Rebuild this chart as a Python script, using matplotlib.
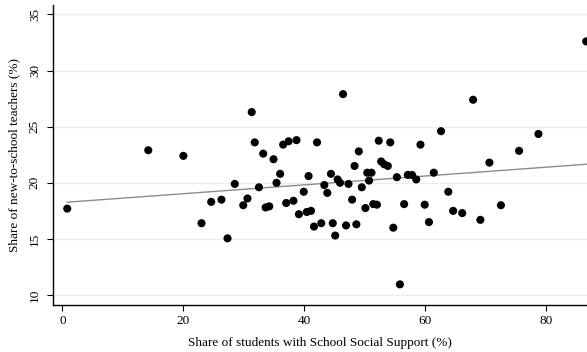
import numpy as np
import matplotlib.pyplot as plt

plt.rcParams['font.family'] = ['Liberation Serif', 'DejaVu Serif']

# share of students with School Social Support (%)
ssp_share = [0.8, 14.2, 20.0, 23.0, 24.6, 26.3, 27.3, 28.5, 29.9, 30.6,
             31.3, 31.8, 32.5, 33.2, 34.9, 33.6, 34.2, 35.4, 36.0, 36.5,
             37.4, 38.7, 37.0, 38.2, 39.1, 40.7, 44.4, 45.5, 45.9, 47.3,
             43.3, 39.9, 43.8, 49.5, 47.9, 40.4, 41.1, 41.6, 42.8, 44.7,
             45.1, 46.9, 48.6, 50.1, 51.4, 52.0, 50.7, 50.4, 51.1, 55.3,
             56.5, 54.7, 55.8, 57.1, 57.8, 58.5, 61.4, 59.9, 60.6, 63.8,
             64.6, 66.1, 69.1, 72.5, 46.4, 42.1, 49.0, 48.3, 52.3, 54.2,
             52.7, 53.2, 53.8, 59.2, 62.6, 67.9, 70.6, 75.5, 78.7, 86.6]

# share of new-to-school teachers (%)
new_teachers = [17.7, 22.9, 22.4, 16.4, 18.3, 18.5, 15.05, 19.9, 18.0, 18.6,
                26.3, 23.6, 19.6, 22.6, 22.1, 17.8, 17.9, 20.0, 20.8, 23.4,
                23.7, 23.8, 18.2, 18.4, 17.2, 20.6, 20.8, 20.3, 20.0, 19.9,
                19.8, 19.2, 19.1, 19.6, 18.5, 17.4, 17.5, 16.1, 16.4, 16.4,
                15.3, 16.2, 16.3, 17.75, 18.1, 18.05, 20.2, 20.9, 20.9, 20.5,
                18.1, 16.0, 10.95, 20.7, 20.7, 20.3, 20.9, 18.05, 16.5, 19.2,
                17.5, 17.3, 16.7, 18.0, 27.9, 23.6, 22.8, 21.5, 23.75, 23.6,
                21.9, 21.65, 21.5, 23.4, 24.6, 27.4, 21.8, 22.85, 24.35, 32.6]

# linear fit line coefficients
fit_intercept = 18.24
fit_slope = 0.0394

x_ticks = [0, 20, 40, 60, 80]
y_ticks = [10, 15, 20, 25, 30, 35]

x = np.array(ssp_share)
y = np.array(new_teachers)

fig = plt.figure(figsize=(5.87, 3.52), dpi=100)
ax = fig.add_axes([0.0898, 0.1335, 0.9102, 0.8525])

for t in y_ticks:
    ax.axhline(t, color='#e9eff1', lw=1.0, zorder=0)

ax.scatter(x, y, s=34, color='black', edgecolors='none', zorder=3)

xf = np.array([x.min(), x.max()])
ax.plot(xf, fit_intercept + fit_slope * xf, color='#8c8c8c', lw=1.0, zorder=2)

ax.set_xlim(-1.6, 86.73)
ax.set_ylim(9.11, 35.85)
ax.set_xticks(x_ticks)
ax.set_yticks(y_ticks)
ax.set_yticklabels([str(t) for t in y_ticks], rotation=90, va='center')
ax.tick_params(axis='both', labelsize=9.5, length=4.5, width=0.8, direction='out', color='black')
ax.tick_params(axis='x', pad=3)
ax.tick_params(axis='y', pad=4)

for side in ['top', 'right']:
    ax.spines[side].set_visible(False)
for side in ['left', 'bottom']:
    ax.spines[side].set_linewidth(1.0)

ax.set_xlabel('Share of students with School Social Support (%)', fontsize=9.5, labelpad=7)
ax.set_ylabel('Share of new-to-school teachers (%)', fontsize=9.5, labelpad=6)

fig.savefig('out.png', dpi=100)
